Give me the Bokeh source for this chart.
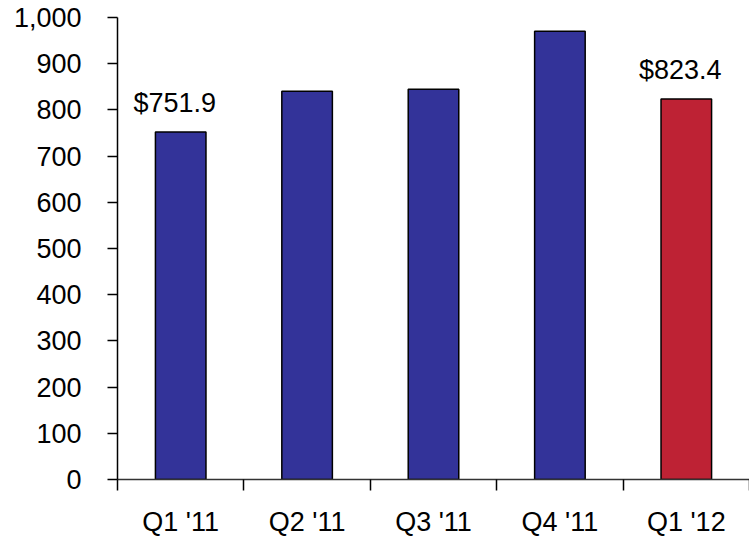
from bokeh.plotting import figure
from bokeh.models import (ColumnDataSource, Range1d, FixedTicker, NumeralTickFormatter, LinearAxis)
from bokeh.core.properties import value
from bokeh.embed import file_html
from bokeh.resources import INLINE

quarters = ["Q1 '11", "Q2 '11", "Q3 '11", "Q4 '11", "Q1 '12"]
revenue = [751.9, 840.5, 844.5, 970.0, 823.4]
bar_colors = ["#333399", "#333399", "#333399", "#333399", "#BE2234"]
labelled = [0, 4]
y_ticks = [0, 100, 200, 300, 400, 500, 600, 700, 800, 900, 1000]

FONT = "Liberation Sans"
FS = "27px"

xs = [i + 0.5 for i in range(len(quarters))]
src = ColumnDataSource(dict(x=xs, top=revenue, color=bar_colors))

p = figure(width=749, height=539, output_backend="svg", toolbar_location=None,
           x_range=Range1d(0, len(quarters)), y_range=Range1d(0, 1000),
           x_axis_type=None, y_axis_type=None,
           min_border_left=117, min_border_right=0, min_border_top=17, min_border_bottom=59)
p.outline_line_color = None
p.xgrid.visible = False
p.ygrid.visible = False
p.background_fill_color = "white"
p.border_fill_color = "white"

p.vbar(x="x", top="top", width=0.40, bottom=0, source=src,
       fill_color="color", line_color="black", line_width=1.5)

lx = [xs[i] for i in labelled]
ly = [revenue[i] for i in labelled]
lt = ["${:.1f}".format(revenue[i]) for i in labelled]
p.text(x=lx, y=ly, text=lt, text_align="center", text_baseline="alphabetic",
       x_offset=-6, y_offset=-29, text_font=value(FONT), text_font_size=FS,
       text_color="black")

yax = LinearAxis(ticker=FixedTicker(ticks=y_ticks),
                 formatter=NumeralTickFormatter(format="0,0"))
yax.axis_line_color = "black"
yax.axis_line_width = 1.5
yax.major_tick_line_color = "black"
yax.major_tick_line_width = 1.5
yax.major_tick_out = 10
yax.major_tick_in = 0
yax.minor_tick_line_color = None
yax.major_label_text_font = FONT
yax.major_label_text_font_size = FS
yax.major_label_text_color = "black"
yax.major_label_standoff = 26
p.add_layout(yax, "left")

xax = LinearAxis(ticker=FixedTicker(ticks=xs, minor_ticks=list(range(len(quarters) + 1))),
                 major_label_overrides={x: q for x, q in zip(xs, quarters)})
xax.axis_line_color = "#333333"
xax.axis_line_width = 1.5
xax.major_tick_out = 0
xax.major_tick_in = 0
xax.major_tick_line_color = None
xax.minor_tick_out = 11
xax.minor_tick_in = 0
xax.minor_tick_line_color = "black"
xax.minor_tick_line_width = 1.5
xax.major_label_text_font = FONT
xax.major_label_text_font_size = FS
xax.major_label_text_color = "black"
xax.major_label_standoff = 16
p.add_layout(xax, "below")

open("out.html", "w").write(file_html(p, INLINE))
